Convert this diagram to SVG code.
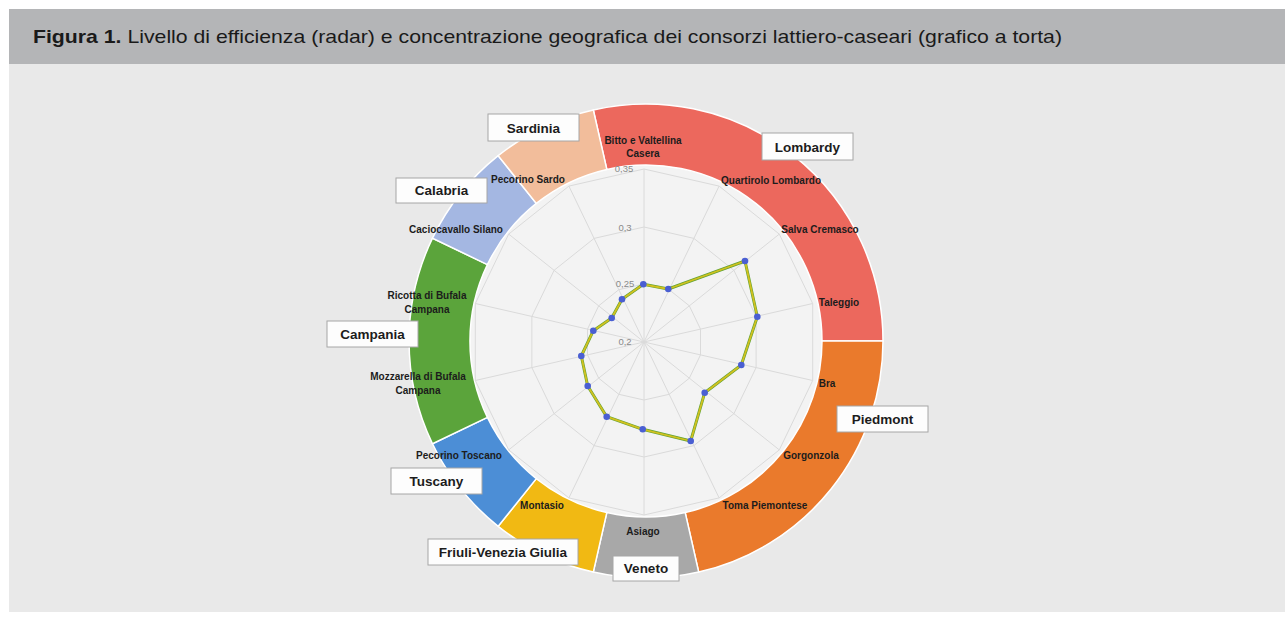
<svg xmlns="http://www.w3.org/2000/svg" width="1285" height="618" viewBox="0 0 1285 618">
<defs>
<style>
.hdr{font-family:"Liberation Sans",Arial,sans-serif;font-size:19px;fill:#1a1a1a}
.slice{stroke:#ffffff;stroke-width:1.5}
.grid{fill:none;stroke:#dadada;stroke-width:1}
.tick{font-family:"Liberation Sans",Arial,sans-serif;font-size:9.5px;fill:#8a8a8a;text-anchor:middle}
.cheese{font-family:"Liberation Sans",Arial,sans-serif;font-size:10px;font-weight:bold;fill:#1c1c1c;text-anchor:middle}
.rbox{fill:#fdfdfd;stroke:#a6a6a6;stroke-width:1}
.rlab{font-family:"Liberation Sans",Arial,sans-serif;font-size:13.5px;font-weight:bold;fill:#1c1c1c;text-anchor:middle}
.dot{fill:#4a5fd2}
</style>
</defs>
<rect x="0" y="0" width="1285" height="618" fill="#ffffff"/>
<rect x="9" y="64" width="1276" height="548" fill="#e9e9e9"/>
<g id="header">
<rect x="9" y="9" width="1276" height="55" fill="#b4b5b7"/>
<text class="hdr" x="33" y="43" textLength="1029" lengthAdjust="spacingAndGlyphs"><tspan font-weight="bold">Figura 1.</tspan> Livello di efficienza (radar) e concentrazione geografica dei consorzi lattiero-caseari (grafico a torta)</text>
</g>
<circle cx="646" cy="341" r="176" fill="#f3f3f3"/>
<g id="donut">
<path id="slice-lombardy" class="slice" fill="#ec685d" d="M593.3,109.9 A237,237 0 0 1 883,341 L822,341 A176,176 0 0 0 606.8,169.4 Z"/>
<path id="slice-piedmont" class="slice" fill="#ea7a2c" d="M883,341 A237,237 0 0 1 698.7,572.1 L685.2,512.6 A176,176 0 0 0 822,341 Z"/>
<path id="slice-veneto" class="slice" fill="#a8a8a8" d="M698.7,572.1 A237,237 0 0 1 593.3,572.1 L606.8,512.6 A176,176 0 0 0 685.2,512.6 Z"/>
<path id="slice-fvg" class="slice" fill="#f1b913" d="M593.3,572.1 A237,237 0 0 1 498.2,526.3 L536.3,478.6 A176,176 0 0 0 606.8,512.6 Z"/>
<path id="slice-tuscany" class="slice" fill="#4c8ed6" d="M498.2,526.3 A237,237 0 0 1 432.5,443.8 L487.4,417.4 A176,176 0 0 0 536.3,478.6 Z"/>
<path id="slice-campania" class="slice" fill="#5ba43b" d="M432.5,443.8 A237,237 0 0 1 432.5,238.2 L487.4,264.6 A176,176 0 0 0 487.4,417.4 Z"/>
<path id="slice-calabria" class="slice" fill="#a4b7e2" d="M432.5,238.2 A237,237 0 0 1 498.2,155.7 L536.3,203.4 A176,176 0 0 0 487.4,264.6 Z"/>
<path id="slice-sardinia" class="slice" fill="#f2bd9b" d="M498.2,155.7 A237,237 0 0 1 593.3,109.9 L606.8,169.4 A176,176 0 0 0 536.3,203.4 Z"/>
</g>
<g id="radar-grid">
<polygon class="grid" points="644,284 669.2,289.7 689.3,305.8 700.5,329.1 700.5,354.9 689.3,378.2 669.2,394.3 644,400 618.8,394.3 598.7,378.2 587.5,354.9 587.5,329.1 598.7,305.8 618.8,289.7"/>
<polygon class="grid" points="644,227 693.9,238.4 733.9,270.3 756.1,316.4 756.1,367.6 733.9,413.7 693.9,445.6 644,457 594.1,445.6 554.1,413.7 531.9,367.6 531.9,316.4 554.1,270.3 594.1,238.4"/>
<polygon class="grid" points="644,169 719.1,186.1 779.3,234.1 812.7,303.5 812.7,380.5 779.3,449.9 719.1,497.9 644,515 568.9,497.9 508.7,449.9 475.3,380.5 475.3,303.5 508.7,234.1 568.9,186.1"/>
<path class="grid" d="M644,342 L644,169 M644,342 L719.1,186.1 M644,342 L779.3,234.1 M644,342 L812.7,303.5 M644,342 L812.7,380.5 M644,342 L779.3,449.9 M644,342 L719.1,497.9 M644,342 L644,515 M644,342 L568.9,497.9 M644,342 L508.7,449.9 M644,342 L475.3,380.5 M644,342 L475.3,303.5 M644,342 L508.7,234.1 M644,342 L568.9,186.1"/>
<text class="tick" x="624" y="172">0,35</text>
<text class="tick" x="625" y="231">0,3</text>
<text class="tick" x="625" y="287">0,25</text>
<text class="tick" x="625" y="345">0,2</text>
</g>
<g id="connectors">
<polygon fill="none" stroke="#5fa332" stroke-width="3" stroke-linejoin="round" points="643.3,284.3 668.3,289 745,261 757.3,316.7 741.3,365 704.7,392.7 690.7,441 642.7,429.3 606.7,416.7 587.7,386 581.3,356 593.3,330.7 611.7,318 622,299.3"/>
<polygon fill="none" stroke="#e6c51c" stroke-width="1.8" stroke-opacity="0.85" stroke-linejoin="round" points="643.3,284.3 668.3,289 745,261 757.3,316.7 741.3,365 704.7,392.7 690.7,441 642.7,429.3 606.7,416.7 587.7,386 581.3,356 593.3,330.7 611.7,318 622,299.3"/>
</g>
<g id="radar-points">
<circle class="dot" cx="643.3" cy="284.3" r="3.3"/>
<circle class="dot" cx="668.3" cy="289" r="3.3"/>
<circle class="dot" cx="745" cy="261" r="3.3"/>
<circle class="dot" cx="757.3" cy="316.7" r="3.3"/>
<circle class="dot" cx="741.3" cy="365" r="3.3"/>
<circle class="dot" cx="704.7" cy="392.7" r="3.3"/>
<circle class="dot" cx="690.7" cy="441" r="3.3"/>
<circle class="dot" cx="642.7" cy="429.3" r="3.3"/>
<circle class="dot" cx="606.7" cy="416.7" r="3.3"/>
<circle class="dot" cx="587.7" cy="386" r="3.3"/>
<circle class="dot" cx="581.3" cy="356" r="3.3"/>
<circle class="dot" cx="593.3" cy="330.7" r="3.3"/>
<circle class="dot" cx="611.7" cy="318" r="3.3"/>
<circle class="dot" cx="622" cy="299.3" r="3.3"/>
</g>
<g id="cheese-labels">
<text class="cheese" x="643" y="143.5">Bitto e Valtellina</text>
<text class="cheese" x="643" y="156.5">Casera</text>
<text class="cheese" x="771" y="183.5">Quartirolo Lombardo</text>
<text class="cheese" x="820" y="232.5">Salva Cremasco</text>
<text class="cheese" x="839" y="305.5">Taleggio</text>
<text class="cheese" x="827" y="386.5">Bra</text>
<text class="cheese" x="811" y="458.5">Gorgonzola</text>
<text class="cheese" x="765" y="508.5">Toma Piemontese</text>
<text class="cheese" x="643" y="534.5">Asiago</text>
<text class="cheese" x="542" y="508.5">Montasio</text>
<text class="cheese" x="459" y="458.5">Pecorino Toscano</text>
<text class="cheese" x="418" y="379.5">Mozzarella di Bufala</text>
<text class="cheese" x="418" y="393.5">Campana</text>
<text class="cheese" x="427" y="298.5">Ricotta di Bufala</text>
<text class="cheese" x="427" y="312.5">Campana</text>
<text class="cheese" x="456" y="232.5">Caciocavallo Silano</text>
<text class="cheese" x="528" y="182.5">Pecorino Sardo</text>
</g>
<g id="node-lombardy"><rect class="rbox" x="762" y="133" width="91" height="27"/><text class="rlab" x="807.5" y="151.5">Lombardy</text></g>
<g id="node-piedmont"><rect class="rbox" x="837" y="406" width="91" height="26"/><text class="rlab" x="882.5" y="423.8">Piedmont</text></g>
<g id="node-veneto"><rect class="rbox" x="613" y="556" width="66" height="25"/><text class="rlab" x="646" y="573.3">Veneto</text></g>
<g id="node-fvg"><rect class="rbox" x="428" y="539" width="150" height="26"/><text class="rlab" x="503" y="556.8">Friuli-Venezia Giulia</text></g>
<g id="node-tuscany"><rect class="rbox" x="391" y="468" width="91" height="26"/><text class="rlab" x="436.5" y="485.8">Tuscany</text></g>
<g id="node-campania"><rect class="rbox" x="327" y="321" width="91" height="26"/><text class="rlab" x="372.5" y="338.8">Campania</text></g>
<g id="node-calabria"><rect class="rbox" x="396" y="178" width="91" height="25"/><text class="rlab" x="441.5" y="195.3">Calabria</text></g>
<g id="node-sardinia"><rect class="rbox" x="488" y="114" width="91" height="27"/><text class="rlab" x="533.5" y="132.5">Sardinia</text></g>
</svg>
